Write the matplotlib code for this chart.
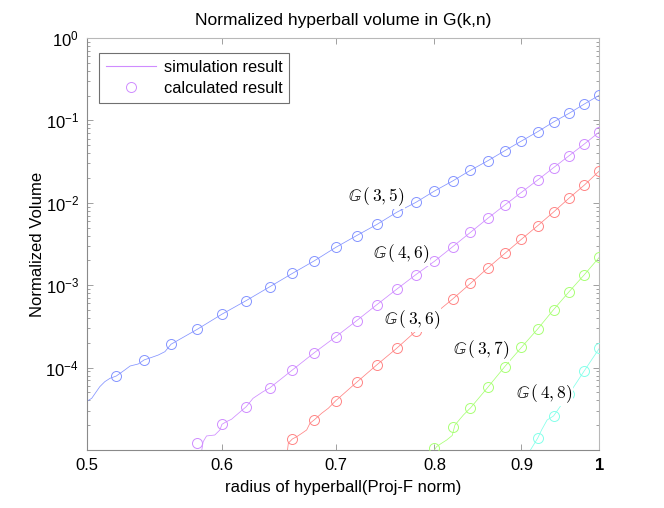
"""Normalized hyperball volume in G(k,n) - simulation vs calculation (log-log)."""

import matplotlib

matplotlib.use("Agg")
from matplotlib import pyplot as plt
from matplotlib.lines import Line2D
from matplotlib.ticker import FixedLocator, LogLocator, NullLocator, NullFormatter

plt.rcParams["font.family"] = ["Liberation Sans", "DejaVu Sans"]
plt.rcParams["mathtext.fontset"] = "custom"
plt.rcParams["mathtext.rm"] = "Liberation Sans"
plt.rcParams["mathtext.it"] = "Liberation Sans"
plt.rcParams["mathtext.bf"] = "Liberation Sans:bold"

# ========== data ==========

# calculated result (circles)
calc_35_x = [0.52, 0.54, 0.56, 0.58, 0.60, 0.62, 0.64, 0.66, 0.68, 0.70, 0.72, 0.74, 0.76,
             0.78, 0.80, 0.82, 0.84, 0.86, 0.88, 0.90, 0.92, 0.94, 0.96, 0.98, 1.00]
calc_35_y = [7.84e-5, 1.24e-4, 1.92e-4, 2.92e-4, 4.47e-4, 6.48e-4, 9.59e-4, 1.39e-3, 1.98e-3,
             2.88e-3, 3.99e-3, 5.48e-3, 7.67e-3, 1.01e-2, 1.39e-2, 1.84e-2, 2.48e-2, 3.24e-2,
             4.29e-2, 5.62e-2, 7.29e-2, 9.57e-2, 0.122, 0.158, 0.202]

calc_46_x = [0.58, 0.60, 0.62, 0.64, 0.66, 0.68, 0.70, 0.72, 0.74, 0.76, 0.78, 0.80, 0.82,
             0.84, 0.86, 0.88, 0.90, 0.92, 0.94, 0.96, 0.98, 1.00]
calc_46_y = [1.21e-5, 2.05e-5, 3.35e-5, 5.65e-5, 9.35e-5, 1.52e-4, 2.37e-4, 3.71e-4, 5.80e-4,
             8.91e-4, 1.34e-3, 1.95e-3, 2.93e-3, 4.38e-3, 6.49e-3, 9.40e-3, 1.34e-2, 1.89e-2,
             2.67e-2, 3.73e-2, 5.17e-2, 7.23e-2]

calc_36_x = [0.66, 0.68, 0.70, 0.72, 0.74, 0.76, 0.78, 0.80, 0.82, 0.84, 0.86, 0.88, 0.90,
             0.92, 0.94, 0.96, 0.98, 1.00]
calc_36_y = [1.36e-5, 2.33e-5, 3.97e-5, 6.63e-5, 1.08e-4, 1.71e-4, 2.76e-4, 4.47e-4, 6.80e-4,
             1.05e-3, 1.62e-3, 2.43e-3, 3.61e-3, 5.27e-3, 7.73e-3, 1.14e-2, 1.64e-2, 2.43e-2]

calc_37_x = [0.80, 0.82, 0.84, 0.86, 0.88, 0.90, 0.92, 0.94, 0.96, 0.98, 1.00]
calc_37_y = [1.05e-5, 1.88e-5, 3.24e-5, 5.77e-5, 1.03e-4, 1.76e-4, 2.94e-4, 5.05e-4, 8.34e-4,
             1.34e-3, 2.18e-3]

calc_48_x = [0.92, 0.94, 0.96, 0.98, 1.00]
calc_48_y = [1.39e-5, 2.59e-5, 4.8e-5, 9.16e-5, 1.71e-4]

# simulation result (thin noisy lines)
sim_35_x = [0.500, 0.503, 0.5085, 0.512, 0.5156, 0.520, 0.526, 0.5298, 0.5357, 0.540, 0.5455,
            0.5504, 0.5554, 0.56, 0.58, 0.60, 0.62, 0.64, 0.66, 0.68, 0.70, 0.72, 0.74, 0.76,
            0.78, 0.80, 0.82, 0.84, 0.86, 0.88, 0.90, 0.92, 0.94, 0.96, 0.98, 1.00]
sim_35_y = [3.93e-5, 4.24e-5, 5.86e-5, 6.75e-5, 7.41e-5, 7.9e-5, 9.35e-5, 1.045e-4, 1.106e-4,
            1.24e-4, 1.33e-4, 1.42e-4, 1.56e-4, 1.92e-4, 2.90e-4, 4.45e-4, 6.50e-4, 9.55e-4,
            1.39e-3, 1.98e-3, 2.88e-3, 4.00e-3, 5.46e-3, 7.65e-3, 1.01e-2, 1.39e-2, 1.84e-2,
            2.48e-2, 3.24e-2, 4.29e-2, 5.62e-2, 7.29e-2, 9.57e-2, 0.122, 0.158, 0.202]

sim_46_x = [0.5836, 0.5849, 0.5876, 0.5942, 0.5983, 0.600, 0.6037, 0.6078, 0.6119, 0.620,
            0.6258, 0.630, 0.6343, 0.64, 0.66, 0.68, 0.70, 0.72, 0.74, 0.76, 0.78, 0.80, 0.82,
            0.84, 0.86, 0.88, 0.90, 0.92, 0.94, 0.96, 0.98, 1.00]
sim_46_y = [9.5e-6, 1.26e-5, 1.48e-5, 1.52e-5, 1.75e-5, 2.05e-5, 2.21e-5, 2.36e-5, 2.66e-5,
            3.35e-5, 4.24e-5, 4.65e-5, 5.10e-5, 5.65e-5, 9.35e-5, 1.52e-4, 2.37e-4, 3.71e-4,
            5.80e-4, 8.91e-4, 1.34e-3, 1.95e-3, 2.93e-3, 4.38e-3, 6.49e-3, 9.40e-3, 1.34e-2,
            1.89e-2, 2.67e-2, 3.73e-2, 5.17e-2, 7.23e-2]

sim_36_x = [0.6555, 0.6564, 0.660, 0.6639, 0.6684, 0.6729, 0.6759, 0.680, 0.6867, 0.6929,
            0.70, 0.72, 0.74, 0.76, 0.78, 0.80, 0.82, 0.84, 0.86, 0.88, 0.90, 0.92, 0.94,
            0.96, 0.98, 1.00]
sim_36_y = [9.5e-6, 1.21e-5, 1.36e-5, 1.45e-5, 1.59e-5, 1.75e-5, 2.11e-5, 2.33e-5, 2.79e-5,
            3.21e-5, 3.97e-5, 6.63e-5, 1.08e-4, 1.71e-4, 2.76e-4, 4.47e-4, 6.80e-4, 1.05e-3,
            1.62e-3, 2.43e-3, 3.61e-3, 5.27e-3, 7.73e-3, 1.14e-2, 1.64e-2, 2.43e-2]

sim_37_x = [0.7995, 0.8024, 0.8079, 0.8133, 0.8195, 0.8225, 0.832, 0.84, 0.86, 0.88, 0.90,
            0.92, 0.94, 0.96, 0.98, 1.00]
sim_37_y = [9.8e-6, 1.10e-5, 1.21e-5, 1.32e-5, 1.50e-5, 2.01e-5, 2.66e-5, 3.24e-5, 5.77e-5,
            1.03e-4, 1.76e-4, 2.94e-4, 5.05e-4, 8.34e-4, 1.34e-3, 2.18e-3]

sim_48_x = [0.9105, 0.92, 0.9249, 0.9318, 0.94, 0.96, 0.98, 1.00]
sim_48_y = [9.8e-6, 1.39e-5, 1.75e-5, 2.31e-5, 2.59e-5, 4.8e-5, 9.16e-5, 1.71e-4]

series_labels = [r"$\mathbb{G}\,(\,3,5)$", r"$\mathbb{G}\,(\,4,6)$", r"$\mathbb{G}\,(\,3,6)$",
                 r"$\mathbb{G}\,(\,3,7)$", r"$\mathbb{G}\,(\,4,8)$"]
label_x = [0.739, 0.765, 0.776, 0.852, 0.928]
label_y = [1.175e-2, 2.39e-3, 3.78e-4, 1.64e-4, 4.78e-5]

x_ticks = [0.5, 0.6, 0.7, 0.8, 0.9, 1.0]
x_tick_labels = ["0.5", "0.6", "0.7", "0.8", "0.9", "1"]
y_ticks = [1e-4, 1e-3, 1e-2, 1e-1, 1e0]
y_tick_labels = [r"$10^{-4}$", r"$10^{-3}$", r"$10^{-2}$", r"$10^{-1}$", r"$10^{0}$"]

colors = ["#8494ff", "#cf8cff", "#ff8484", "#a8ff74", "#84ffea"]

# ========== figure ==========

fig = plt.figure(figsize=(6.64, 5.08), dpi=100)
ax = fig.add_axes([0.1315, 0.1142, 0.771, 0.811])
ax.set_xscale("log")
ax.set_yscale("log")

sims = [(sim_35_x, sim_35_y), (sim_46_x, sim_46_y), (sim_36_x, sim_36_y),
        (sim_37_x, sim_37_y), (sim_48_x, sim_48_y)]
calcs = [(calc_35_x, calc_35_y), (calc_46_x, calc_46_y), (calc_36_x, calc_36_y),
         (calc_37_x, calc_37_y), (calc_48_x, calc_48_y)]

for (sx, sy), (cx, cy), col in zip(sims, calcs, colors):
    ax.plot(sx, sy, "-", color=col, linewidth=0.55, zorder=2)
    ax.plot(cx, cy, "o", markersize=7.2, markerfacecolor="none", markeredgecolor=col,
            markeredgewidth=0.7, zorder=3)

for txt, lx, ly in zip(series_labels, label_x, label_y):
    ax.text(lx, ly, txt, fontsize=12.5, ha="center", va="center", math_fontfamily="cm",
            bbox=dict(facecolor="white", edgecolor="none", pad=0.5), zorder=4)

ax.set_xlim(0.5, 1.0)
ax.set_ylim(1.0e-5, 1.0)

ax.xaxis.set_major_locator(FixedLocator(x_ticks))
ax.xaxis.set_minor_locator(NullLocator())
ax.set_xticklabels(x_tick_labels)
ax.get_xticklabels()[-1].set_fontweight("bold")
ax.yaxis.set_major_locator(FixedLocator(y_ticks))
ax.yaxis.set_minor_locator(LogLocator(base=10, subs=range(2, 10)))
ax.yaxis.set_minor_formatter(NullFormatter())
ax.set_yticklabels(y_tick_labels)

ax.tick_params(which="both", direction="in", top=True, right=True, colors="#909090",
               labelcolor="black", labelsize=12, width=0.6)
ax.tick_params(which="major", length=4.5, pad=6)
ax.tick_params(which="minor", length=2.5)
for side in ["left", "bottom"]:
    ax.spines[side].set_color("#8a8a8a")
for side in ["top", "right"]:
    ax.spines[side].set_color("#b8b8b8")
for sp in ax.spines.values():
    sp.set_linewidth(0.8)

ax.set_title("Normalized hyperball volume in G(k,n)", fontsize=12.5, pad=9)
ax.set_xlabel("radius of hyperball(Proj-F norm)", fontsize=12, labelpad=5)
ax.set_ylabel("Normalized Volume", fontsize=12, labelpad=0.5)

legend_handles = [
    Line2D([], [], color=colors[1], linewidth=0.8),
    Line2D([], [], linestyle="none", marker="o", markersize=7.2, markerfacecolor="none",
           markeredgecolor=colors[1], markeredgewidth=0.7),
]
leg = ax.legend(legend_handles, ["simulation result", "calculated result"], loc="upper left",
                bbox_to_anchor=(0.0229, 0.9636), fontsize=11.8, fancybox=False, framealpha=1,
                edgecolor="#707070", borderpad=0.4, handlelength=3.1, labelspacing=0.4,
                handletextpad=0.45, borderaxespad=0)
leg.get_frame().set_linewidth(0.8)

fig.savefig("out.png", dpi=100)
